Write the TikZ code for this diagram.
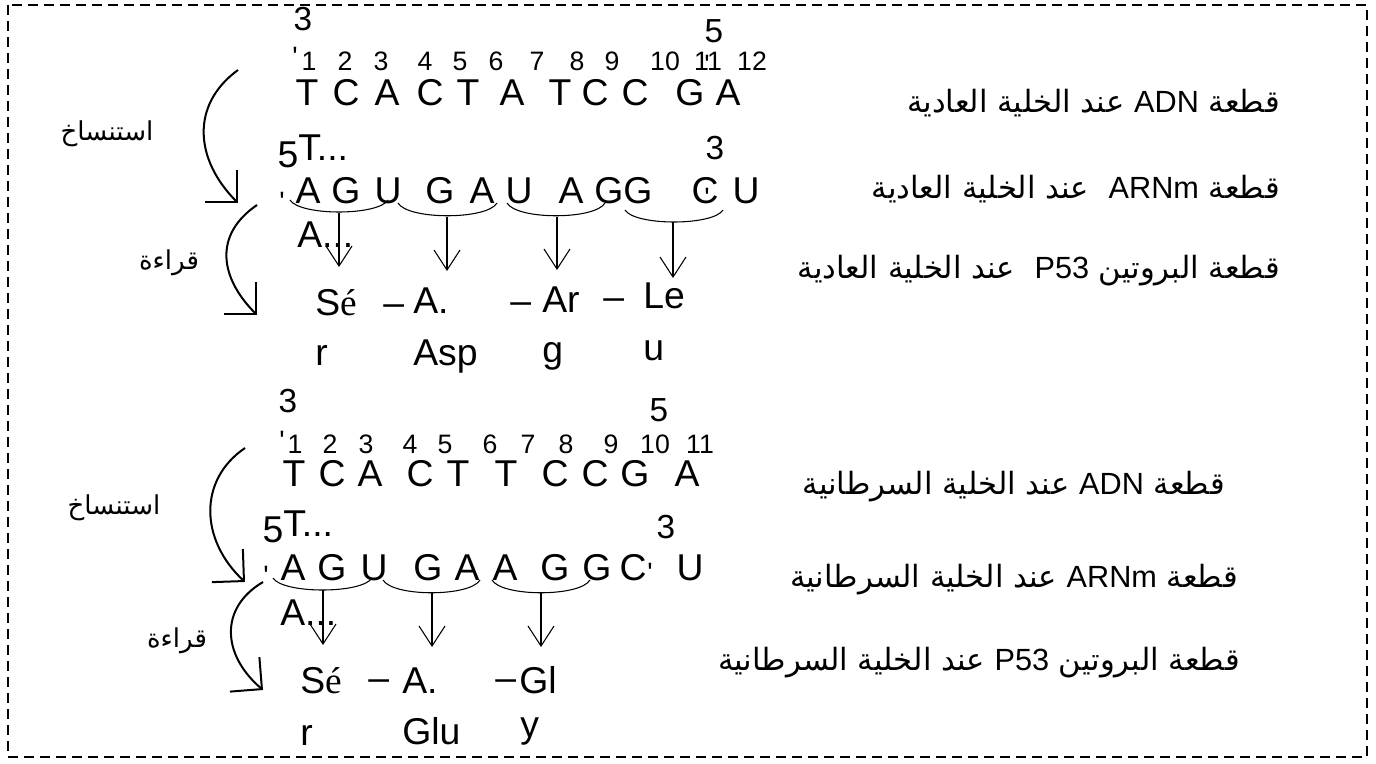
\documentclass[tikz,border=0pt]{standalone}
\usepackage{fontspec}
\setmainfont{Liberation Sans}
\newfontfamily\plainfont{Liberation Sans}
\newfontfamily\dnafont{Liberation Sans}
\newfontfamily\serifacc{Liberation Serif}
\newfontfamily\arabicfont[Script=Arabic]{DejaVu Sans}
\TeXXeTstate=1
\usetikzlibrary{arrows.meta}

\begin{document}
\begin{tikzpicture}[
    x=0.75pt, y=-0.75pt,
    base/.style={inner sep=0pt, anchor=base, font=\dnafont\fontsize{28}{30}\selectfont},
    basew/.style={base, anchor=base west},
    numb/.style={inner sep=0pt, anchor=base, font=\dnafont\fontsize{20}{22}\selectfont},
    endb/.style={inner sep=0pt, anchor=base, font=\dnafont\fontsize{25}{27}\selectfont},
    tick/.style={inner sep=0pt, anchor=north, font=\plainfont\fontsize{21}{22}\selectfont},
    dashw/.style={inner sep=0pt, anchor=base west, font=\plainfont\fontsize{28}{30}\selectfont},
    label/.style={inner sep=0pt, anchor=east, font=\arabicfont\fontsize{23}{26}\selectfont},
    steplabel/.style={inner sep=0pt, font=\arabicfont\fontsize{19.5}{22}\selectfont},
    codon/.style={line width=0.8pt},
    readarrow/.style={line width=0.8pt, -{Straight Barb[length=15pt,width=19.5pt]}},
    steparrow/.style={line width=1.5pt, -{Straight Barb[length=17pt,width=34pt]}},
    border/.style={line width=1pt, dash pattern=on 7.5pt off 4.5pt}
]
\useasboundingbox (0,0) rectangle (1376,763);
\draw[border] (8,5) rectangle (1367,757);

% normal cell
\node[endb] (t3a) at (303,31) {3};
\node[endb] (t5a) at (714,43) {5};
\node[tick] (tq1) at (295,47) {'};
\foreach \x/\n [count=\i] in {309/1,345/2,381/3,425/4,460/5,496/6,537/7,577/8,612/9,665/10,708/11,752/12}
    \node[numb] (tn\i) at (\x,71) {\n};
\node[tick] (tq2) at (707,55) {'};
\foreach \x/\b [count=\i] in {307/T,346/C,387/A,430/C,468/T,512/A,560/T,595/C,635/C,690/G,728/A}
    \node[base] (tdna\i) at (\x,106) {\b};
\node[base] (t5b) at (288,167) {5};
\node[basew] (tdots) at (298,161) {T...};
\node[endb] (t3b) at (715,160) {3};
\node[tick] (tq3) at (282,192) {'};
\foreach \x/\b [count=\i] in {308/A,346/G,388/U,440/G,482/A,519/U,571/A,609/G,638/G,705/C,746/U}
    \node[base] (trna\i) at (\x,203) {\b};
\node[tick] (tq4) at (707,188) {'};
\node[basew] (tadots) at (297,247) {A...};

\draw[codon] (290,200) .. controls (300,216) and (378,216) .. (388,200);
\draw[codon] (398,203) .. controls (408,220) and (487,220) .. (497,203);
\draw[codon] (507,203) .. controls (517,220) and (595,220) .. (605,203);
\draw[codon] (625,210) .. controls (635,226) and (713,226) .. (723,210);

\node[basew] (tp1) at (315,315) {S{\serifacc é}};
\node[basew] (tp1b) at (315,365) {r};
\node[dashw] (td1) at (383,315) {\textendash};
\node[basew] (tp2) at (413,313) {A.};
\node[basew] (tp2b) at (413,365) {Asp};
\node[dashw] (td2) at (510,313) {\textendash};
\node[basew] (tp3) at (542,312) {Ar};
\node[basew] (tp3b) at (542,362) {g};
\node[dashw] (td3) at (603,309) {\textendash};
\node[basew] (tp4) at (643,308) {Le};
\node[basew] (tp4b) at (643,360) {u};

\foreach \x/\a/\b [count=\i] in {339/213/267,447/217/271,557/217/270,673/222/278} {
    \coordinate (tc\i) at (\x,\a);
    \coordinate (ta\i) at (\x,\b);
    \draw[readarrow] (tc\i) -- (ta\i);
}

\coordinate (ts1) at (238,70);
\coordinate (te1) at (238,203);
\coordinate (ts2) at (257,205);
\coordinate (te2) at (257,315);
\draw[steparrow] (ts1) .. controls (190,105) and (195,160) .. (te1);
\draw[steparrow] (ts2) .. controls (213,235) and (220,278) .. (te2);
\node[steplabel] (tcopy) at (107,134) {\beginR استنساخ\endR};
\node[steplabel] (tread) at (169,263) {\beginR قراءة\endR};

\node[label] (tl1) at (1280,103) {\beginR قطعة \beginL{\plainfont ADN}\endL{} عند الخلية العادية\endR};
\node[label] (tl2) at (1280,189) {\beginR قطعة \beginL{\plainfont ARNm}\endL{} \ عند الخلية العادية\endR};
\node[label] (tl3) at (1280,271) {\beginR قطعة البروتين \beginL{\plainfont P53}\endL{} \ عند الخلية العادية\endR};

% cancer cell
\node[endb] (b3a) at (288,412) {3};
\node[endb] (b5a) at (659,421) {5};
\node[tick] (bq1) at (282,431) {'};
\foreach \x/\n [count=\i] in {295/1,330/2,366/3,410/4,445/5,490/6,528/7,566/8,611/9,655/10,700/11}
    \node[numb] (bn\i) at (\x,453) {\n};
\foreach \x/\b [count=\i] in {294/T,332/C,370/A,420/C,458/T,506/T,555/C,595/C,635/G,687/A}
    \node[base] (bdna\i) at (\x,486) {\b};
\node[base] (b5b) at (273,542) {5};
\node[basew] (bdots) at (283,536) {T...};
\node[endb] (b3b) at (666,538) {3};
\node[tick] (bq2) at (266,566) {'};
\foreach \x/\b [count=\i] in {293/A,332/G,374/U,428/G,467/A,505/A,555/G,597/G,633/C,690/U}
    \node[base] (brna\i) at (\x,580) {\b};
\node[tick] (bq3) at (650,563) {'};
\node[basew] (badots) at (280,625) {A...};

\draw[codon] (273,578) .. controls (283,594) and (362,594) .. (372,578);
\draw[codon] (383,580) .. controls (393,597) and (470,597) .. (480,580);
\draw[codon] (492,580) .. controls (502,597) and (580,597) .. (590,580);

\node[basew] (bp1) at (300,693) {S{\serifacc é}};
\node[basew] (bp1b) at (300,745) {r};
\node[dashw] (bd1) at (368,690) {\textendash};
\node[basew] (bp2) at (402,693) {A.};
\node[basew] (bp2b) at (402,744) {Glu};
\node[dashw] (bd2) at (495,690) {\textendash};
\node[basew] (bp3) at (519,693) {Gl};
\node[basew] (bp3b) at (520,737) {y};

\foreach \x/\a/\b [count=\i] in {323/590/645,432/593/647,541/593/647} {
    \coordinate (bc\i) at (\x,\a);
    \coordinate (ba\i) at (\x,\b);
    \draw[readarrow] (bc\i) -- (ba\i);
}

\coordinate (bs1) at (245,448);
\coordinate (be1) at (245,582);
\coordinate (bs2) at (263,582);
\coordinate (be2) at (263,690);
\draw[steparrow] (bs1) .. controls (198,480) and (200,540) .. (be1);
\draw[steparrow] (bs2) .. controls (219,608) and (222,655) .. (be2);
\node[steplabel] (bcopy) at (114,508) {\beginR استنساخ\endR};
\node[steplabel] (bread) at (177,641) {\beginR قراءة\endR};

\node[label] (bl1) at (1225,487) {\beginR قطعة \beginL{\plainfont ADN}\endL{} عند الخلية السرطانية\endR};
\node[label] (bl2) at (1238,580) {\beginR قطعة \beginL{\plainfont ARNm}\endL{} عند الخلية السرطانية\endR};
\node[label] (bl3) at (1240,663) {\beginR قطعة البروتين \beginL{\plainfont P53}\endL{} عند الخلية السرطانية\endR};
\end{tikzpicture}
\end{document}
